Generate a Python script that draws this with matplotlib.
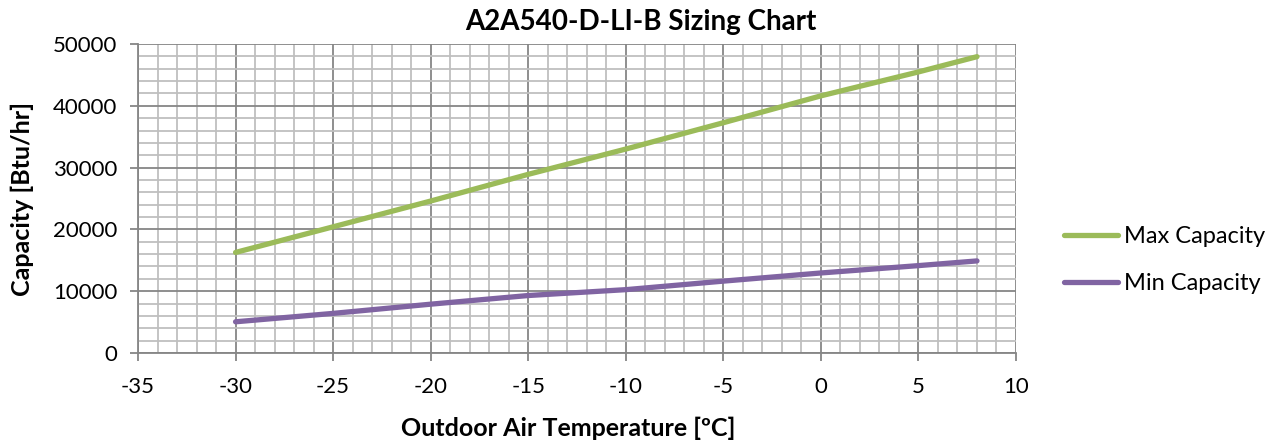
import matplotlib
matplotlib.use('Agg')

import matplotlib.pyplot as plt
from matplotlib.ticker import MultipleLocator

plt.rcParams['font.family'] = ['Lato', 'DejaVu Sans']
plt.rcParams['axes.unicode_minus'] = False

temp = [-30, -25, -20, -15, -10, -5, 0, 5, 8]
max_cap = [16270, 20420, 24590, 28910, 33000, 37260, 41610, 45480, 47950]
min_cap = [5050, 6410, 7900, 9300, 10250, 11630, 12950, 14140, 14900]

fig = plt.figure(figsize=(12.81, 4.45), dpi=100)
ax = fig.add_axes([138/1281, 1-353/445, (1016-138)/1281, (353-44)/445])

ax.plot(temp, max_cap, color='#9BBB59', lw=3.8, solid_capstyle='round', label='Max Capacity', zorder=3)
ax.plot(temp, min_cap, color='#8064A2', lw=3.8, solid_capstyle='round', label='Min Capacity', zorder=3)

ax.set_xlim(-35, 10)
ax.set_ylim(0, 50000)
ax.xaxis.set_major_locator(MultipleLocator(5))
ax.xaxis.set_minor_locator(MultipleLocator(1))
ax.yaxis.set_major_locator(MultipleLocator(10000))
ax.yaxis.set_minor_locator(MultipleLocator(2000))
ax.grid(which='minor', color='#BFBFBF', lw=1.3)
ax.grid(which='major', color='#868686', lw=1.3)
ax.set_axisbelow(True)

for s in ['top', 'right']:
    ax.spines[s].set_visible(False)
for s in ['left', 'bottom']:
    ax.spines[s].set_color('#868686')
    ax.spines[s].set_linewidth(1.3)
ax.tick_params(which='major', length=6, width=1.3, color='#868686', labelsize=16)
ax.tick_params(which='minor', length=0)
ax.tick_params(axis='y', pad=9)
ax.tick_params(axis='x', pad=11)

fig.suptitle('A2A540-D-LI-B Sizing Chart', fontsize=20, fontweight='bold', x=0.5, y=1-22/445, va='center')
ax.set_xlabel('Outdoor Air Temperature [ºC]', fontsize=18, fontweight='bold')
ax.xaxis.set_label_coords(0.49, -(428-353)/309, transform=ax.transAxes)
ax.set_ylabel('Capacity [Btu/hr]', fontsize=18, fontweight='bold')
ax.yaxis.set_label_coords(-(138-22)/878, 0.5, transform=ax.transAxes)
ax.xaxis.label.set_va('center')
ax.yaxis.label.set_va('center')

fig.legend(loc='center left', bbox_to_anchor=(1064/1281, 1-260/445), frameon=False,
           fontsize=17, handlelength=2.3, labelspacing=1.1, handletextpad=0.25,
           borderpad=0, borderaxespad=0)

fig.savefig('out.png', dpi=100)
plt.close(fig)
